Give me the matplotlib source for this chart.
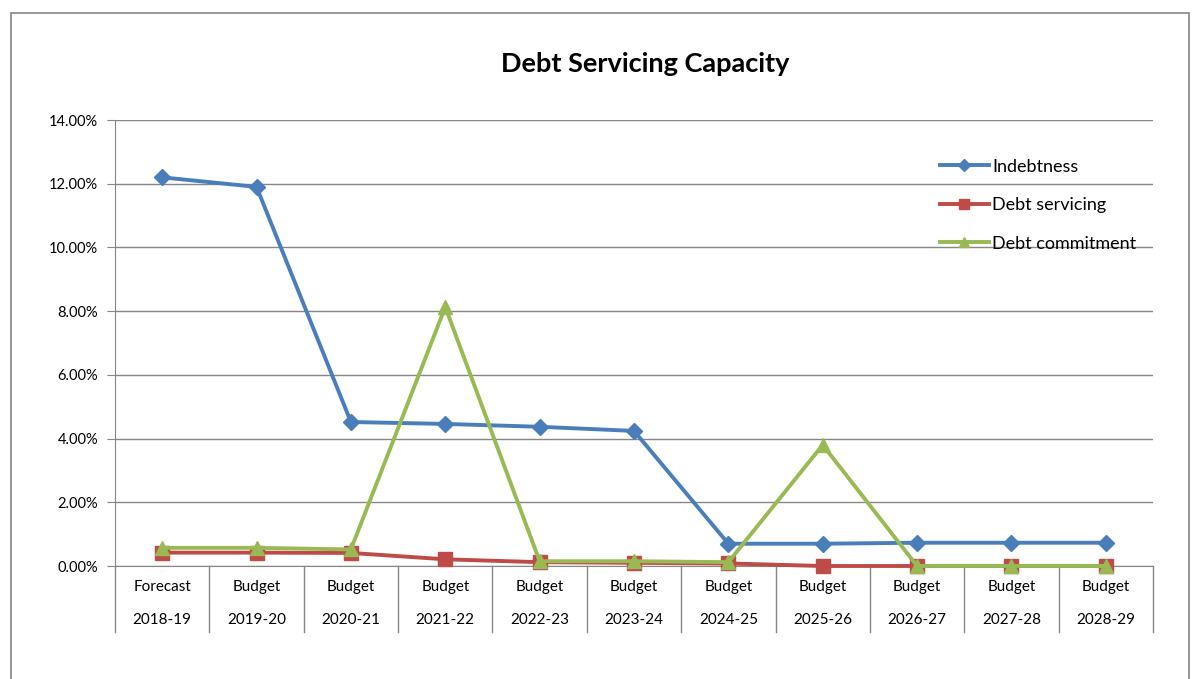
import numpy as np
import matplotlib.pyplot as plt
from matplotlib.patches import Rectangle
from matplotlib.ticker import FuncFormatter
import matplotlib.transforms as mtransforms

plt.rcParams['font.family'] = ['Lato', 'DejaVu Sans']

### data
stages = ['Forecast', 'Budget', 'Budget', 'Budget', 'Budget', 'Budget',
          'Budget', 'Budget', 'Budget', 'Budget', 'Budget']
years = ['2018-19', '2019-20', '2020-21', '2021-22', '2022-23', '2023-24',
         '2024-25', '2025-26', '2026-27', '2027-28', '2028-29']
indebtness = [12.20, 11.90, 4.52, 4.46, 4.37, 4.24, 0.70, 0.70, 0.73, 0.73, 0.73]
debt_servicing = [0.42, 0.42, 0.41, 0.21, 0.12, 0.10, 0.08, 0.0, 0.0, 0.0, 0.0]
debt_commitment = [0.57, 0.57, 0.52, 8.13, 0.15, 0.15, 0.12, 3.80, 0.0, 0.0, 0.0]

fig = plt.figure(figsize=(11.92, 6.79), dpi=100)
ax = fig.add_axes([115/1192, 1-566/679, (1153-115)/1192, (566-120)/679])

# chart border
fig.patches.append(Rectangle((11/1192, -0.05), (1189-11)/1192, 1.05-13/679,
                             transform=fig.transFigure, fill=False,
                             edgecolor='#868686', lw=1.2))

x = np.arange(len(years))
ax.plot(x, indebtness, color='#4A7EBB', lw=2.8, marker='D', ms=8.5,
        label='Indebtness', clip_on=False, zorder=3)
ax.plot(x, debt_servicing, color='#BE4B48', lw=2.8, marker='s', ms=10,
        label='Debt servicing', clip_on=False, zorder=3)
ax.plot(x, debt_commitment, color='#98B954', lw=2.8, marker='^', ms=10,
        label='Debt commitment', clip_on=False, zorder=4)

ax.set_xlim(-0.5, len(years)-0.5)
ax.set_ylim(0, 14)
ax.set_yticks(np.arange(0, 15, 2))
ax.yaxis.set_major_formatter(FuncFormatter(lambda v, p: '%.2f%%' % v))
ax.tick_params(axis='y', labelsize=10.5, length=6, color='#868686', pad=6)
ax.set_xticks([])
ax.grid(axis='y', color='#868686', lw=1)
ax.set_axisbelow(True)
for s in ['top', 'right']:
    ax.spines[s].set_visible(False)
for s in ['left', 'bottom']:
    ax.spines[s].set_color('#868686')

# category table below the axis
trans = mtransforms.blended_transform_factory(ax.transData, ax.transAxes)
for b in np.arange(-0.5, len(years), 1.0):
    ax.plot([b, b], [0, -66/446], color='#868686', lw=1, transform=trans,
            clip_on=False)
for i in range(len(years)):
    ax.text(i, -21/446, stages[i], transform=trans, ha='center', va='center',
            fontsize=11)
    ax.text(i, -54/446, years[i], transform=trans, ha='center', va='center',
            fontsize=11)

fig.text(645/1192, 1-64/679, 'Debt Servicing Capacity', ha='center',
         va='center', fontsize=19.5, fontweight='bold')

ax.legend(loc='upper left', bbox_to_anchor=(0.779, 0.95), frameon=False,
          fontsize=13, handlelength=2.7, labelspacing=1.25, handletextpad=0.2,
          markerscale=0.75)

fig.savefig('out.png', dpi=100)
